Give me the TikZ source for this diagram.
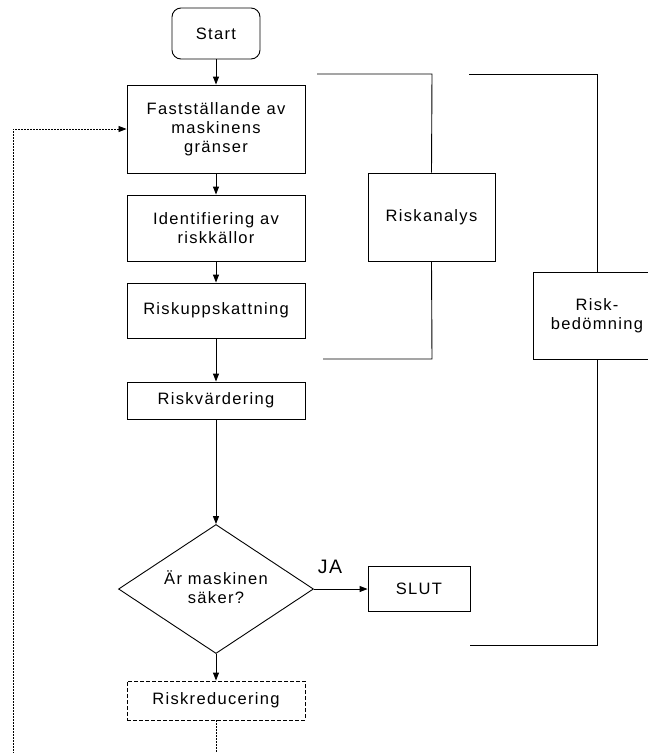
\documentclass[tikz,border=0pt]{standalone}
\usepackage{fontspec}
\setmainfont{Liberation Sans}[LetterSpace=8]
\usetikzlibrary{shapes.geometric,arrows.meta}
\begin{document}
\begin{tikzpicture}[x=1pt,y=-1pt,
  every node/.style={font=\fontsize{16.5}{19}\selectfont, align=center, inner sep=0pt},
  box/.style={draw, line width=0.9pt, minimum width=178pt},
  ln/.style={line width=0.9pt},
  arr/.style={ln, -{Triangle[length=8pt,width=6pt]}},
  darr/.style={line width=0.8pt, dash pattern=on 2pt off 1pt, -{Triangle[length=8pt,width=6pt]}},
  dbox/.style={box, dash pattern=on 4pt off 2pt}]
\useasboundingbox (0,0) rectangle (648,753);
\node[draw, ln, rounded corners=9pt, minimum width=88pt, minimum height=51pt] (start) at (216,33.5) {Start};
\node[box, minimum height=88pt] (fast) at (216,129) {Fastställande av\\maskinens\\gränser};
\node[box, minimum height=66pt] (ident) at (216,228) {Identifiering av\\riskkällor};
\node[box, minimum height=55pt] (upps) at (216,310.5) {Riskuppskattning};
\node[box, minimum height=37pt] (varde) at (216,400.5) {Riskvärdering};
\node[diamond, draw, ln, minimum width=195pt, minimum height=129pt] (dia) at (216,589) {};
\node (diatext) at (216,587) {Är maskinen\\säker?};
\node[font=\fontsize{19.5}{22}\selectfont] (ja) at (330,567) {JA};
\node[box, minimum width=102pt, minimum height=45pt] (slut) at (419,589) {SLUT};
\node[dbox, minimum height=39pt] (red) at (216,700.5) {Riskreducering};
\node[box, minimum width=127pt, minimum height=88pt] (ra) at (431.5,217) {Riskanalys};
\node[box, minimum width=128pt, minimum height=87pt] (rb) at (597,315.5) {Risk-\\bedömning};

\draw[arr] (start) -- (fast);
\draw[arr] (fast) -- (ident);
\draw[arr] (ident) -- (upps);
\draw[arr] (upps) -- (varde);
\draw[arr] (varde) -- (dia.north);
\draw[arr] (dia.east) -- (slut.west);
\draw[arr] (dia.south) -- (red.north);

\coordinate (lb) at (216,775);
\coordinate (ll) at (13,775);
\coordinate (lt) at (13,129);
\draw[darr] (red.south) -- (lb) -- (ll) -- (lt) -- (fast.west);

\coordinate (a1) at (317,74);
\coordinate (a2) at (432,74);
\coordinate (a3) at (432,359);
\coordinate (a4) at (323,359);
\draw[ln] (a1) -- (a2) -- (ra.north);
\draw[ln] (ra.south) -- (a3) -- (a4);

\coordinate (b1) at (469,74);
\coordinate (b2) at (597,74);
\coordinate (b3) at (597,645);
\coordinate (b4) at (470,645);
\draw[ln] (b1) -- (b2) -- (rb.north);
\draw[ln] (rb.south) -- (b3) -- (b4);
\end{tikzpicture}
\end{document}
